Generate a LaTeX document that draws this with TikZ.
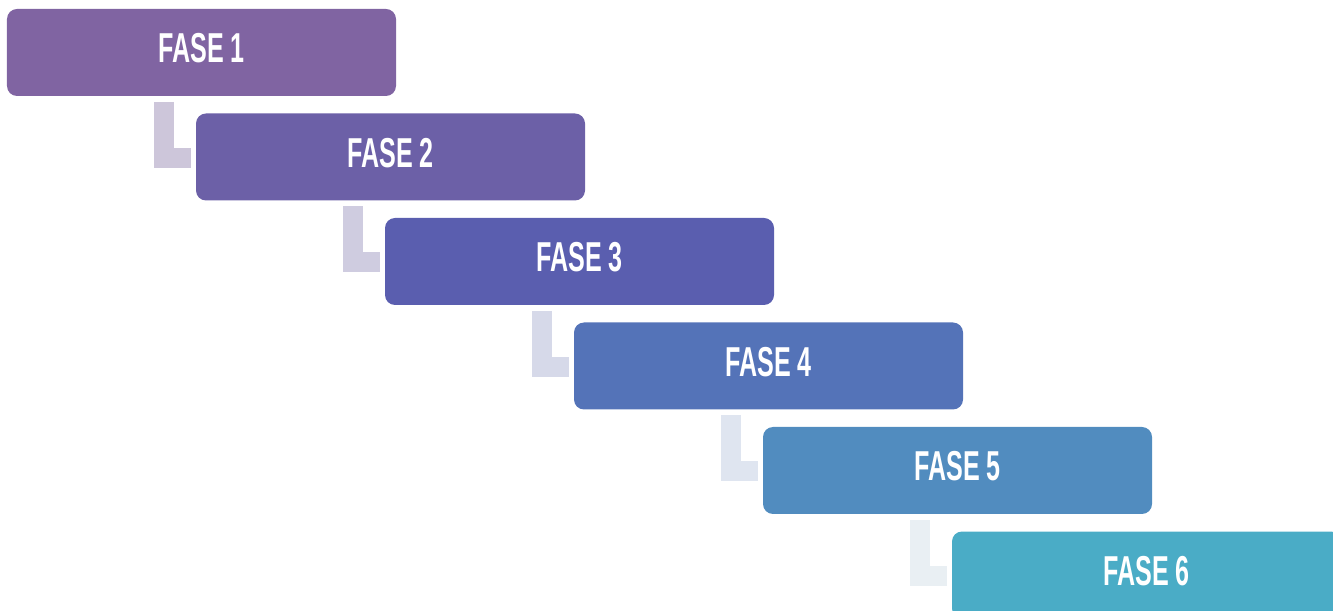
\documentclass[tikz,border=0pt]{standalone}
\usepackage{fontspec}
\newfontfamily\fasefont{Liberation Sans}[FakeStretch=0.6]
\usetikzlibrary{positioning}
\definecolor{fase1}{HTML}{8064A2}
\definecolor{fase2}{HTML}{6C60A7}
\definecolor{fase3}{HTML}{5A5EAF}
\definecolor{fase4}{HTML}{5473B8}
\definecolor{fase5}{HTML}{518CBF}
\definecolor{fase6}{HTML}{4AACC6}
\definecolor{link1}{HTML}{CDC6DA}
\definecolor{link2}{HTML}{CFCCE0}
\definecolor{link3}{HTML}{D6D9E9}
\definecolor{link4}{HTML}{DFE5F0}
\definecolor{link5}{HTML}{E9EFF3}
\tikzstyle{fase} = [rectangle, rounded corners=0.2cm, minimum width=7.78cm, minimum height=1.74cm, inner sep=0pt, outer sep=0pt, text centered, text depth=0.18cm, text=white, font=\fasefont\bfseries\fontsize{23.8}{26}\selectfont]
\tikzstyle{link} = [line width=0.4cm]
\begin{document}
\begin{tikzpicture}
	\useasboundingbox (0,0) rectangle (26.66,-12.22);
	\clip (0,0) rectangle (26.66,-12.22);
	\node (f1) [fase, fill=fase1] at (4.03,-1.05) {FASE 1};
	\node (f2) [fase, fill=fase2, below=0.35cm of f1, xshift=3.78cm] {FASE 2};
	\node (f3) [fase, fill=fase3, below=0.35cm of f2, xshift=3.78cm] {FASE 3};
	\node (f4) [fase, fill=fase4, below=0.35cm of f3, xshift=3.78cm] {FASE 4};
	\node (f5) [fase, fill=fase5, below=0.35cm of f4, xshift=3.78cm] {FASE 5};
	\node (f6) [fase, fill=fase6, below=0.35cm of f5, xshift=3.78cm] {FASE 6};
\draw [link, draw=link1] ([xshift=3.14cm, yshift=-0.12cm]f1.south west) |- ([xshift=-0.1cm, yshift=-0.02cm]f2.west);
\draw [link, draw=link2] ([xshift=3.14cm, yshift=-0.12cm]f2.south west) |- ([xshift=-0.1cm, yshift=-0.02cm]f3.west);
\draw [link, draw=link3] ([xshift=3.14cm, yshift=-0.12cm]f3.south west) |- ([xshift=-0.1cm, yshift=-0.02cm]f4.west);
\draw [link, draw=link4] ([xshift=3.14cm, yshift=-0.12cm]f4.south west) |- ([xshift=-0.1cm, yshift=-0.02cm]f5.west);
\draw [link, draw=link5] ([xshift=3.14cm, yshift=-0.12cm]f5.south west) |- ([xshift=-0.1cm, yshift=-0.02cm]f6.west);
\end{tikzpicture}
\end{document}
